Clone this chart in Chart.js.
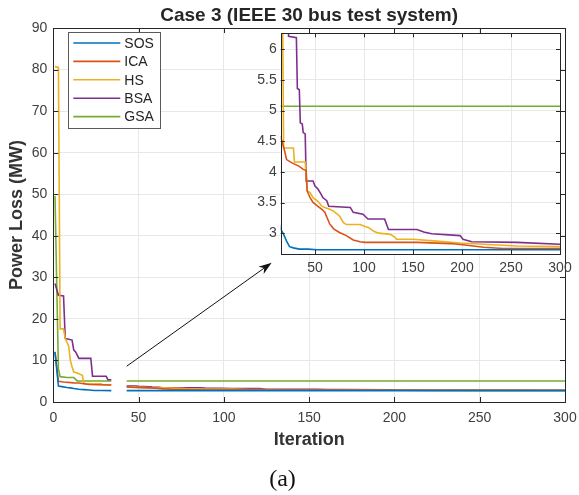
<!DOCTYPE html>
<html>
<head>
<meta charset="utf-8">
<script src="https://cdn.jsdelivr.net/npm/chart.js@4"></script>
<style>
  body { margin: 0; background: #fff; }
  #wrap { position: relative; width: 579px; height: 495px; }
  #mainChart { position: absolute; left: 0; top: 0; }
  #zoomChart { position: absolute; left: 230px; top: 28px; }
</style>
</head>
<body>
<div id="wrap">
  <canvas id="mainChart" width="579" height="495"></canvas>
  <canvas id="zoomChart" width="345" height="255"></canvas>
</div>
<script>
// series (iteration, power loss in MW)
const seriesNames = ['SOS', 'ICA', 'HS', 'BSA', 'GSA'];
const seriesColors = ['#0072BD', '#D95319', '#EDB120', '#7E2F8E', '#77AC30'];

const sosIter = [1, 3, 5, 8, 10, 12, 15, 18, 21, 24, 28, 34, 43, 52, 300];
const sosLoss = [12, 3.85, 3.7, 3.5, 3.4, 3.25, 3.06, 2.98, 2.87, 2.78, 2.76, 2.74, 2.74, 2.73, 2.73];

const icaIter = [1, 3, 6, 12, 15, 18, 19, 21, 26, 34, 38, 41, 42, 43, 45, 48, 52, 57, 60, 65, 69, 75, 82, 89, 96, 101, 154, 188, 201, 222, 242, 300];
const icaLoss = [12.1, 5.0, 4.8, 4.6, 4.57, 4.40, 4.34, 4.20, 4.15, 4.09, 4.04, 4.02, 3.69, 3.65, 3.58, 3.50, 3.45, 3.39, 3.34, 3.15, 3.07, 3.01, 2.96, 2.89, 2.86, 2.85, 2.85, 2.83, 2.81, 2.77, 2.75, 2.75];

const hsIter = [1, 3, 4, 6, 7, 9, 10, 11, 12, 14, 17, 18, 28, 29, 34, 40, 42, 43, 45, 48, 53, 57, 60, 65, 69, 75, 79, 82, 96, 101, 105, 110, 115, 127, 132, 133, 150, 174, 198, 222, 256, 300];
const hsLoss = [80.7, 80.5, 17.6, 17.6, 15.3, 13.5, 10, 8.5, 7.2, 7, 6.4, 4.39, 4.39, 4.16, 4.16, 4.16, 3.69, 3.68, 3.66, 3.58, 3.52, 3.44, 3.42, 3.39, 3.36, 3.28, 3.17, 3.14, 3.14, 3.11, 3.09, 3.03, 3.0, 2.98, 2.93, 2.90, 2.90, 2.87, 2.84, 2.82, 2.79, 2.78];

const bsaIter = [1, 3, 6, 7, 9, 11, 12, 13, 15, 22, 23, 31, 32, 34, 35, 37, 38, 40, 41, 43, 48, 50, 53, 56, 58, 62, 64, 86, 89, 99, 104, 121, 125, 154, 161, 169, 198, 201, 210, 256, 300];
const bsaLoss = [28.5, 25.7, 25.5, 15.3, 15.1, 14.9, 12.5, 12.1, 10.5, 10.5, 6.21, 6.19, 5.36, 5.34, 4.80, 4.78, 4.64, 4.62, 3.85, 3.85, 3.85, 3.77, 3.72, 3.64, 3.58, 3.53, 3.44, 3.42, 3.34, 3.31, 3.23, 3.23, 3.06, 3.06, 3.02, 2.99, 2.96, 2.90, 2.86, 2.85, 2.82];

const gsaIter = [1, 2, 3, 4, 8, 12, 14, 34, 43, 300];
const gsaLoss = [49.6, 28.6, 8, 6.1, 5.9, 5.9, 5.07, 5.07, 5.07, 5.07];

const allIter = [sosIter, icaIter, hsIter, bsaIter, gsaIter];
const allLoss = [sosLoss, icaLoss, hsLoss, bsaLoss, gsaLoss];

// the main plot has the curves cut out between these iterations
const gapIter = [34, 43];
// arrow pointing to the zoom window (main plot data coords)
const arrowFrom = [43, 8.6];
const arrowTo = [128, 33.5];

Chart.defaults.font.family = "'Liberation Sans', Arial, sans-serif";

function points(iter, loss, gap) {
    const pts = [];
    let cut = false;
    for (let i = 0; i < iter.length; i++) {
        if (gap && iter[i] > gap[0] && iter[i] < gap[1]) continue;
        if (gap && !cut && iter[i] >= gap[1]) {
            pts.push({x: (gap[0] + gap[1]) / 2, y: null});
            cut = true;
        }
        pts.push({x: iter[i], y: loss[i]});
    }
    return pts;
}

function makeDatasets(gap) {
    return seriesNames.map(function(name, i) {
        return {
            label: name,
            data: points(allIter[i], allLoss[i], gap),
            borderColor: seriesColors[i],
            borderWidth: 1.6,
            pointRadius: 0,
            fill: false,
            tension: 0
        };
    });
}

// box around the plot with inward ticks, like matlab
const axisBox = {
    id: 'axisBox',
    beforeDraw(chart, args, opts) {
        if (!opts.fill) return;
        const a = chart.chartArea;
        chart.ctx.save();
        chart.ctx.fillStyle = opts.fill;
        chart.ctx.fillRect(a.left, a.top, a.right - a.left, a.bottom - a.top);
        chart.ctx.restore();
    },
    afterDraw(chart, args, opts) {
        const ctx = chart.ctx, a = chart.chartArea;
        const xs = chart.scales.x, ys = chart.scales.y;
        const len = opts.tickLength || 5;
        ctx.save();
        ctx.strokeStyle = opts.color || '#262626';
        ctx.lineWidth = 1;
        ctx.beginPath();
        xs.ticks.forEach(function(t) {
            const px = Math.round(xs.getPixelForValue(t.value)) + 0.5;
            if (px < a.left + 2 || px > a.right - 2) return;
            ctx.moveTo(px, a.bottom); ctx.lineTo(px, a.bottom - len);
            ctx.moveTo(px, a.top); ctx.lineTo(px, a.top + len);
        });
        ys.ticks.forEach(function(t) {
            const py = Math.round(ys.getPixelForValue(t.value)) + 0.5;
            if (py < a.top + 2 || py > a.bottom - 2) return;
            ctx.moveTo(a.left, py); ctx.lineTo(a.left + len, py);
            ctx.moveTo(a.right, py); ctx.lineTo(a.right - len, py);
        });
        ctx.stroke();
        ctx.strokeRect(Math.round(a.left) + 0.5, Math.round(a.top) + 0.5,
            Math.round(a.right - a.left), Math.round(a.bottom - a.top));
        ctx.restore();
    }
};

// legend box in the top left corner of the plot
const boxLegend = {
    id: 'boxLegend',
    afterDraw(chart, args, opts) {
        const ctx = chart.ctx, a = chart.chartArea;
        const left = a.left + opts.x, top = a.top + opts.y;
        ctx.save();
        ctx.font = '14px ' + Chart.defaults.font.family;
        let maxW = 0;
        chart.data.datasets.forEach(function(d) { maxW = Math.max(maxW, ctx.measureText(d.label).width); });
        const n = chart.data.datasets.length;
        const w = 56 + maxW + 6, h = 22 + (n - 1) * opts.row;
        ctx.fillStyle = '#fff';
        ctx.fillRect(left, top, w, h);
        ctx.strokeStyle = '#5a5a5a';
        ctx.lineWidth = 1;
        ctx.strokeRect(Math.round(left) + 0.5, Math.round(top) + 0.5, Math.round(w), Math.round(h));
        chart.data.datasets.forEach(function(d, i) {
            const cy = top + 11 + i * opts.row;
            ctx.strokeStyle = d.borderColor;
            ctx.lineWidth = 1.6;
            ctx.beginPath();
            ctx.moveTo(left + 5, cy); ctx.lineTo(left + 52, cy);
            ctx.stroke();
            ctx.fillStyle = '#262626';
            ctx.textBaseline = 'middle';
            ctx.fillText(d.label, left + 56, cy + 1);
        });
        ctx.restore();
    }
};

const arrow = {
    id: 'arrow',
    afterDatasetsDraw(chart) {
        const ctx = chart.ctx, xs = chart.scales.x, ys = chart.scales.y;
        const x0 = xs.getPixelForValue(arrowFrom[0]), y0 = ys.getPixelForValue(arrowFrom[1]);
        const x1 = xs.getPixelForValue(arrowTo[0]), y1 = ys.getPixelForValue(arrowTo[1]);
        const ang = Math.atan2(y1 - y0, x1 - x0);
        const L = 13, W = 4.5;
        const bx = x1 - L * Math.cos(ang), by = y1 - L * Math.sin(ang);
        const nx = x1 - L * 0.7 * Math.cos(ang), ny = y1 - L * 0.7 * Math.sin(ang);
        ctx.save();
        ctx.strokeStyle = '#111';
        ctx.fillStyle = '#111';
        ctx.lineWidth = 1;
        ctx.beginPath();
        ctx.moveTo(x0, y0); ctx.lineTo(nx, ny);
        ctx.stroke();
        ctx.beginPath();
        ctx.moveTo(x1, y1);
        ctx.lineTo(bx + W * Math.sin(ang), by - W * Math.cos(ang));
        ctx.lineTo(nx, ny);
        ctx.lineTo(bx - W * Math.sin(ang), by + W * Math.cos(ang));
        ctx.closePath();
        ctx.fill();
        ctx.restore();
    }
};

const tickFont = {size: 14};
const gridStyle = {color: '#e8e8e8', drawTicks: false};

new Chart(document.getElementById('mainChart'), {
    type: 'line',
    data: {datasets: makeDatasets(gapIter)},
    plugins: [axisBox, boxLegend, arrow],
    options: {
        responsive: false,
        animation: false,
        spanGaps: false,
        layout: {padding: {left: 0, right: 14, top: 0, bottom: 0.6}},
        scales: {
            x: {
                type: 'linear', min: 0, max: 300,
                ticks: {stepSize: 50, padding: 8, color: '#404040', font: tickFont, maxRotation: 0},
                grid: gridStyle,
                border: {display: false},
                title: {display: true, text: 'Iteration', color: '#333',
                    font: {size: 18, weight: 'bold'}, padding: {top: 0, bottom: 1}},
                afterFit: function(s) { s.height = 50; s.paddingLeft = 0; s.paddingRight = 0; }
            },
            y: {
                min: 0, max: 90,
                ticks: {stepSize: 10, padding: 6, color: '#404040', font: tickFont},
                grid: gridStyle,
                border: {display: false},
                title: {display: true, text: 'Power Loss (MW)', color: '#333',
                    font: {size: 18, weight: 'bold'}, padding: {top: 6, bottom: 0}},
                afterFit: function(s) { s.width = 53.3; s.paddingTop = 0; s.paddingBottom = 0; }
            }
        },
        plugins: {
            legend: {display: false},
            tooltip: {enabled: false},
            title: {display: true, fullSize: false, text: 'Case 3 (IEEE 30 bus test system)', color: '#262626',
                font: {size: 19, weight: 'bold'}, padding: {top: 4.6, bottom: 0.6}},
            subtitle: {display: true, position: 'bottom', text: '(a)', color: '#111',
                font: {family: "'Liberation Serif', 'Times New Roman', serif", size: 24, weight: 'normal'},
                padding: {top: 13.6, bottom: 0}},
            axisBox: {tickLength: 5},
            boxLegend: {x: 15, y: 4, row: 18.4}
        }
    }
});

new Chart(document.getElementById('zoomChart'), {
    type: 'line',
    data: {datasets: makeDatasets(null)},
    plugins: [axisBox],
    options: {
        responsive: false,
        animation: false,
        layout: {padding: {left: 0, right: 15, top: 5.3, bottom: 0}},
        scales: {
            x: {
                type: 'linear', min: 15, max: 300,
                ticks: {stepSize: 50, includeBounds: false, padding: 6, color: '#404040', font: tickFont, maxRotation: 0},
                grid: gridStyle,
                border: {display: false},
                afterFit: function(s) { s.height = 29; s.paddingLeft = 0; s.paddingRight = 0; }
            },
            y: {
                min: 2.66, max: 6.26,
                ticks: {stepSize: 0.5, includeBounds: false, padding: 4, color: '#404040', font: tickFont,
                    callback: function(v) { return String(Math.round(v * 10) / 10); }},
                grid: gridStyle,
                border: {display: false},
                afterFit: function(s) { s.width = 50.7; s.paddingTop = 0; s.paddingBottom = 0; }
            }
        },
        plugins: {
            legend: {display: false},
            tooltip: {enabled: false},
            axisBox: {tickLength: 4, fill: '#fff'}
        }
    }
});
</script>
</body>
</html>
